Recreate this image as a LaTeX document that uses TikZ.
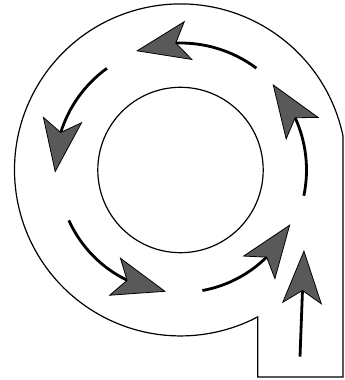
\documentclass[tikz,border=0pt]{standalone}
\usetikzlibrary{arrows.meta,bending}
\tikzset{
  outline/.style={line width=1.2pt, black},
  arr/.style={line width=2.8pt, black,
    -{Stealth[length=54pt,width=40pt,inset=13pt,fill=black!65,line width=0.8pt,flex]}},
}
\newcommand{\cirarrow}[3]{%
  \draw[arr] ([shift={(#1:#3)}]C) arc[start angle=#1, end angle=#2, radius=#3];}
\begin{document}
\begin{tikzpicture}[x=1pt,y=1pt]
\useasboundingbox (0,0) rectangle (345,380);
\coordinate (C) at (180.5,210);
% outer q outline
\coordinate (B) at (343,244);
\draw[outline] (B) arc[start angle=11.8, end angle=297.7, radius=166]
  |- (343,3) -- cycle;
% inner circle
\draw[outline] (C) circle[radius=82.7];
% circulating arrows
\cirarrow{53.3}{110.5}{127}
\cirarrow{125.9}{181.2}{125.5}
\cirarrow{204.3}{263.2}{122.5}
\cirarrow{280.3}{333.7}{122.5}
\cirarrow{348.2}{403}{126}
% tail arrow
\coordinate (t0) at (300,23.3);
\coordinate (t1) at (304,130);
\draw[arr] (t0) -- (t1);
\end{tikzpicture}
\end{document}
